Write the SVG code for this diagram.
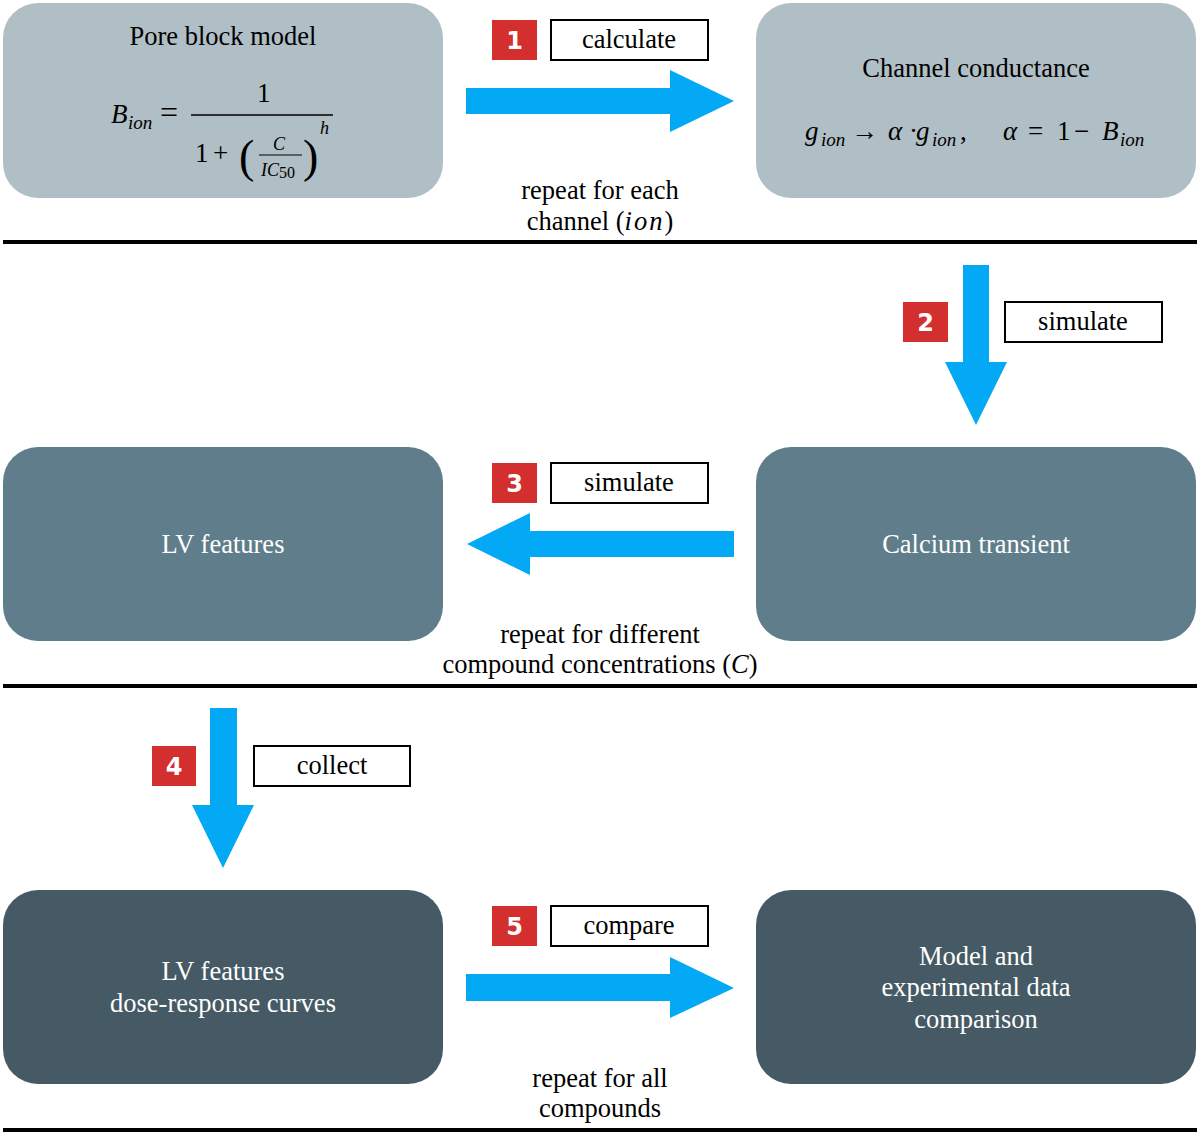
<svg xmlns="http://www.w3.org/2000/svg" width="1200" height="1135" viewBox="0 0 1200 1135">
<style>
.t{font-family:"Liberation Serif","Times New Roman",serif;font-size:26.5px;text-anchor:middle;fill:#000}
.w{fill:#fff}
.m{font-family:"Liberation Serif","Times New Roman",serif;font-size:27px;fill:#000}
.i{font-style:italic}
.n{font-style:normal}
.sub{font-size:19px}
.sm{font-family:"Liberation Serif","Times New Roman",serif;font-size:18px;fill:#000}
.sub2{font-size:16px}
.par{font-family:"Liberation Serif","Times New Roman",serif;font-size:46px;fill:#000}
.b1{fill:#b0bec5}
.b2{fill:#607d8b}
.b3{fill:#455a64}
.arr{fill:#03a9f4}
.badge{fill:#d32f2f}
.bn{font-family:"DejaVu Sans",sans-serif;font-weight:bold;font-size:24px;fill:#fff;text-anchor:middle}
.lab{fill:#fff;stroke:#000;stroke-width:2}
.sep{stroke:#000;stroke-width:4}
</style>
<rect width="1200" height="1135" fill="#fff"/>
<g id="separators">
<line class="sep" x1="3" y1="242" x2="1197" y2="242"/>
<line class="sep" x1="3" y1="686" x2="1197" y2="686"/>
<line class="sep" x1="3" y1="1130" x2="1197" y2="1130"/>
</g>
<g id="node-pore-block">
<rect class="b1" x="3" y="3" width="440" height="195" rx="35"/>
<text class="t" x="223" y="45">Pore block model</text>
<text class="m i" x="111" y="123">B<tspan class="sub" x="128" dy="6">ion</tspan></text>
<text class="m" x="160" y="123" style="font-size:32px">=</text>
<line x1="191" y1="115" x2="333" y2="115" stroke="#000" stroke-width="1.5"/>
<text class="m" x="257" y="102">1</text>
<text class="m" x="195" y="162">1</text>
<text class="m" x="213" y="162">+</text>
<text class="par" x="239" y="172">(</text>
<text class="sm i" x="273" y="150">C</text>
<line x1="259" y1="155" x2="302" y2="155" stroke="#000" stroke-width="1.2"/>
<text class="sm i" x="261" y="176">IC<tspan class="sub2 n" dy="2">50</tspan></text>
<text class="par" x="303" y="172">)</text>
<text class="sm i" x="320" y="134">h</text>
</g>
<g id="node-channel-conductance">
<rect class="b1" x="756" y="3" width="440" height="195" rx="35"/>
<text class="t" x="976" y="77">Channel conductance</text>
<text class="m" y="140"><tspan class="i" x="805">g</tspan><tspan class="i sub" x="821" dy="6">ion</tspan><tspan x="851" dy="-6">→</tspan><tspan class="i" x="888">α</tspan><tspan x="909">·</tspan><tspan class="i" x="916">g</tspan><tspan class="i sub" x="932" dy="6">ion</tspan><tspan x="960" dy="-6">,</tspan><tspan class="i" x="1003">α</tspan><tspan x="1028">=</tspan><tspan x="1057">1</tspan><tspan x="1074">−</tspan><tspan class="i" x="1102">B</tspan><tspan class="i sub" x="1120" dy="6">ion</tspan></text>
</g>
<g id="node-lv-features">
<rect class="b2" x="3" y="447" width="440" height="194" rx="35"/>
<text class="t w" x="223" y="553">LV features</text>
</g>
<g id="node-calcium-transient">
<rect class="b2" x="756" y="447" width="440" height="194" rx="35"/>
<text class="t w" x="976" y="553">Calcium transient</text>
</g>
<g id="node-dose-response">
<rect class="b3" x="3" y="890" width="440" height="194" rx="35"/>
<text class="t w" x="223" y="980">LV features</text>
<text class="t w" x="223" y="1012">dose-response curves</text>
</g>
<g id="node-comparison">
<rect class="b3" x="756" y="890" width="440" height="194" rx="35"/>
<text class="t w" x="976" y="965">Model and</text>
<text class="t w" x="976" y="996">experimental data</text>
<text class="t w" x="976" y="1028">comparison</text>
</g>
<g id="connectors">
<g id="step1">
<polygon class="arr" points="466,88 670,88 670,70 734,101 670,132 670,114 466,114"/>
<rect class="badge" x="492" y="20" width="45" height="40"/>
<text class="bn" x="514.5" y="49">1</text>
<rect class="lab" x="551" y="20" width="157" height="40"/>
<text class="t" x="629" y="48">calculate</text>
<text class="t" x="600" y="199">repeat for each</text>
<text class="t" x="600" y="230">channel (<tspan font-style="italic" letter-spacing="2">ion</tspan>)</text>
</g>
<g id="step2">
<polygon class="arr" points="963,265 989,265 989,362 1007,362 976,425 945,362 963,362"/>
<rect class="badge" x="903" y="302" width="45" height="40"/>
<text class="bn" x="925.5" y="331">2</text>
<rect class="lab" x="1005" y="302" width="157" height="40"/>
<text class="t" x="1083" y="330">simulate</text>
</g>
<g id="step3">
<polygon class="arr" points="734,531 734,557 530,557 530,575 467,544 530,513 530,531"/>
<rect class="badge" x="492" y="463" width="45" height="40"/>
<text class="bn" x="514.5" y="492">3</text>
<rect class="lab" x="551" y="463" width="157" height="40"/>
<text class="t" x="629" y="491">simulate</text>
<text class="t" x="600" y="643">repeat for different</text>
<text class="t" x="600" y="673">compound concentrations (<tspan font-style="italic">C</tspan>)</text>
</g>
<g id="step4">
<polygon class="arr" points="210,708 237,708 237,805 254,805 223,868 192,805 210,805"/>
<rect class="badge" x="152" y="746" width="44" height="40"/>
<text class="bn" x="174" y="775">4</text>
<rect class="lab" x="254" y="746" width="156" height="40"/>
<text class="t" x="332" y="774">collect</text>
</g>
<g id="step5">
<polygon class="arr" points="466,974 670,974 670,957 734,988 670,1018 670,1001 466,1001"/>
<rect class="badge" x="492" y="906" width="45" height="40"/>
<text class="bn" x="514.5" y="935">5</text>
<rect class="lab" x="551" y="906" width="157" height="40"/>
<text class="t" x="629" y="934">compare</text>
<text class="t" x="600" y="1087">repeat for all</text>
<text class="t" x="600" y="1117">compounds</text>
</g>
</g>
</svg>
